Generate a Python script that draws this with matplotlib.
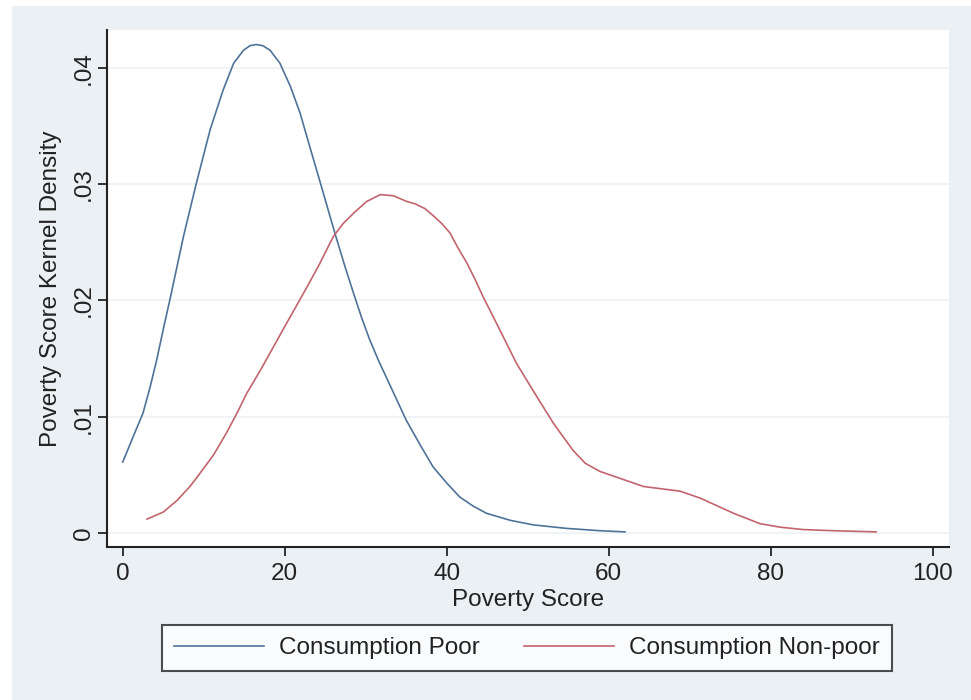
import matplotlib
matplotlib.use("Agg")
import matplotlib.pyplot as plt
from matplotlib.patches import Rectangle

# kernel density of poverty score
poor_x = [0, 1.3, 2.5, 3.4, 4.2, 5.0, 5.9, 7.5, 9.1, 10.8, 12.4, 13.7, 14.9, 15.7, 16.5,
          17.3, 18.2, 19.4, 20.7, 21.9, 23.1, 24.4, 25.6, 26.4, 27.4, 28.5, 29.5, 30.5,
          31.6, 32.6, 33.8, 35.0, 36.7, 38.3, 40.0, 41.6, 43.3, 44.9, 47.8, 50.7,
          54.8, 58.9, 62.0]
poor_y = [.0061, .0083, .0103, .0126, .0149, .0175, .0203, .0255, .0301, .0347, .0381,
          .0404, .0415, .0419, .0420, .0419, .0415, .0404, .0384, .0361, .0332, .0301,
          .0272, .0253, .0230, .0206, .0185, .0166, .0148, .0133, .0115, .0097, .0076,
          .0057, .0043, .0031, .0023, .0017, .0011, .0007, .0004, .0002, .0001]

nonpoor_x = [3.0, 5.0, 6.7, 8.3, 9.5, 11.2, 12.8, 14.1, 15.3, 17.0, 18.6, 20.2, 21.9,
             23.1, 24.2, 26.0, 27.2, 28.5, 30.1, 31.8, 33.4, 35.1, 36.1, 37.3, 38.3,
             39.4, 40.4, 41.4, 42.5, 43.5, 44.5, 46.6, 48.6, 50.7, 53.2, 55.6, 57.1,
             58.9, 61.4, 64.3, 68.8, 71.3, 75.4, 78.7, 81.2, 84.0, 87.7, 93.0]
nonpoor_y = [.0012, .0018, .0028, .0040, .0051, .0067, .0086, .0103, .0120, .0140, .0160,
             .0180, .0201, .0216, .0230, .0255, .0266, .0275, .0285, .0291, .0290, .0285,
             .0283, .0279, .0273, .0266, .0258, .0245, .0232, .0218, .0203, .0174, .0146,
             .0122, .0094, .0071, .0060, .0053, .0047, .0040, .0036, .0030, .0017, .0008,
             .0005, .0003, .0002, .0001]

xticks = [0, 20, 40, 60, 80, 100]
yticks = [0, .01, .02, .03, .04]
ylabels = ["0", ".01", ".02", ".03", ".04"]

plt.rcParams["font.family"] = ["Liberation Sans", "DejaVu Sans"]
fs = 17.5
bg = "#eaf0f3"
ink = "#222222"

fig = plt.figure(figsize=(9.71, 7.0), dpi=100, facecolor="white")
fig.patches.append(Rectangle((12/971, 0), 1 - 12/971, 694/700, transform=fig.transFigure,
                             facecolor=bg, edgecolor="none", zorder=-10))

ax = fig.add_axes([107/971, 153/700, 842/971, 517/700])
ax.set_facecolor("white")
ax.plot(poor_x, poor_y, color="#4f7398", lw=1.2, label="Consumption Poor")
ax.plot(nonpoor_x, nonpoor_y, color="#c2646d", lw=1.2, label="Consumption Non-poor")

ax.set_xlim(-1.94, 102.0)
ax.set_ylim(-0.0012, 0.04325)
ax.set_xticks(xticks)
ax.set_yticks(yticks)
ax.set_yticklabels(ylabels, rotation=90, va="center")
ax.grid(axis="y", color="#edf1f3", lw=1.2)
ax.set_axisbelow(True)
for s in ["top", "right"]:
    ax.spines[s].set_visible(False)
for s in ["left", "bottom"]:
    ax.spines[s].set_linewidth(1.5)
    ax.spines[s].set_color(ink)
ax.tick_params(axis="both", labelsize=fs, colors=ink, length=6.5, width=1.3)
ax.tick_params(axis="y", pad=2)
ax.tick_params(axis="x", pad=5)
ax.set_xlabel("Poverty Score", fontsize=fs, color=ink, labelpad=3)
ax.set_ylabel("Poverty Score Kernel Density", fontsize=fs, color=ink, labelpad=8)

leg = fig.legend(loc="center", bbox_to_anchor=(527/971, 52/700), ncol=2, fontsize=fs,
                 frameon=True, fancybox=False, handlelength=3.7, handletextpad=0.62,
                 columnspacing=1.8, borderpad=0.5, borderaxespad=0)
leg.get_frame().set_edgecolor(ink)
leg.get_frame().set_linewidth(1.5)
leg.get_frame().set_facecolor("white")
for t in leg.get_texts():
    t.set_color(ink)

fig.savefig("out.png", dpi=100, facecolor=fig.get_facecolor())
